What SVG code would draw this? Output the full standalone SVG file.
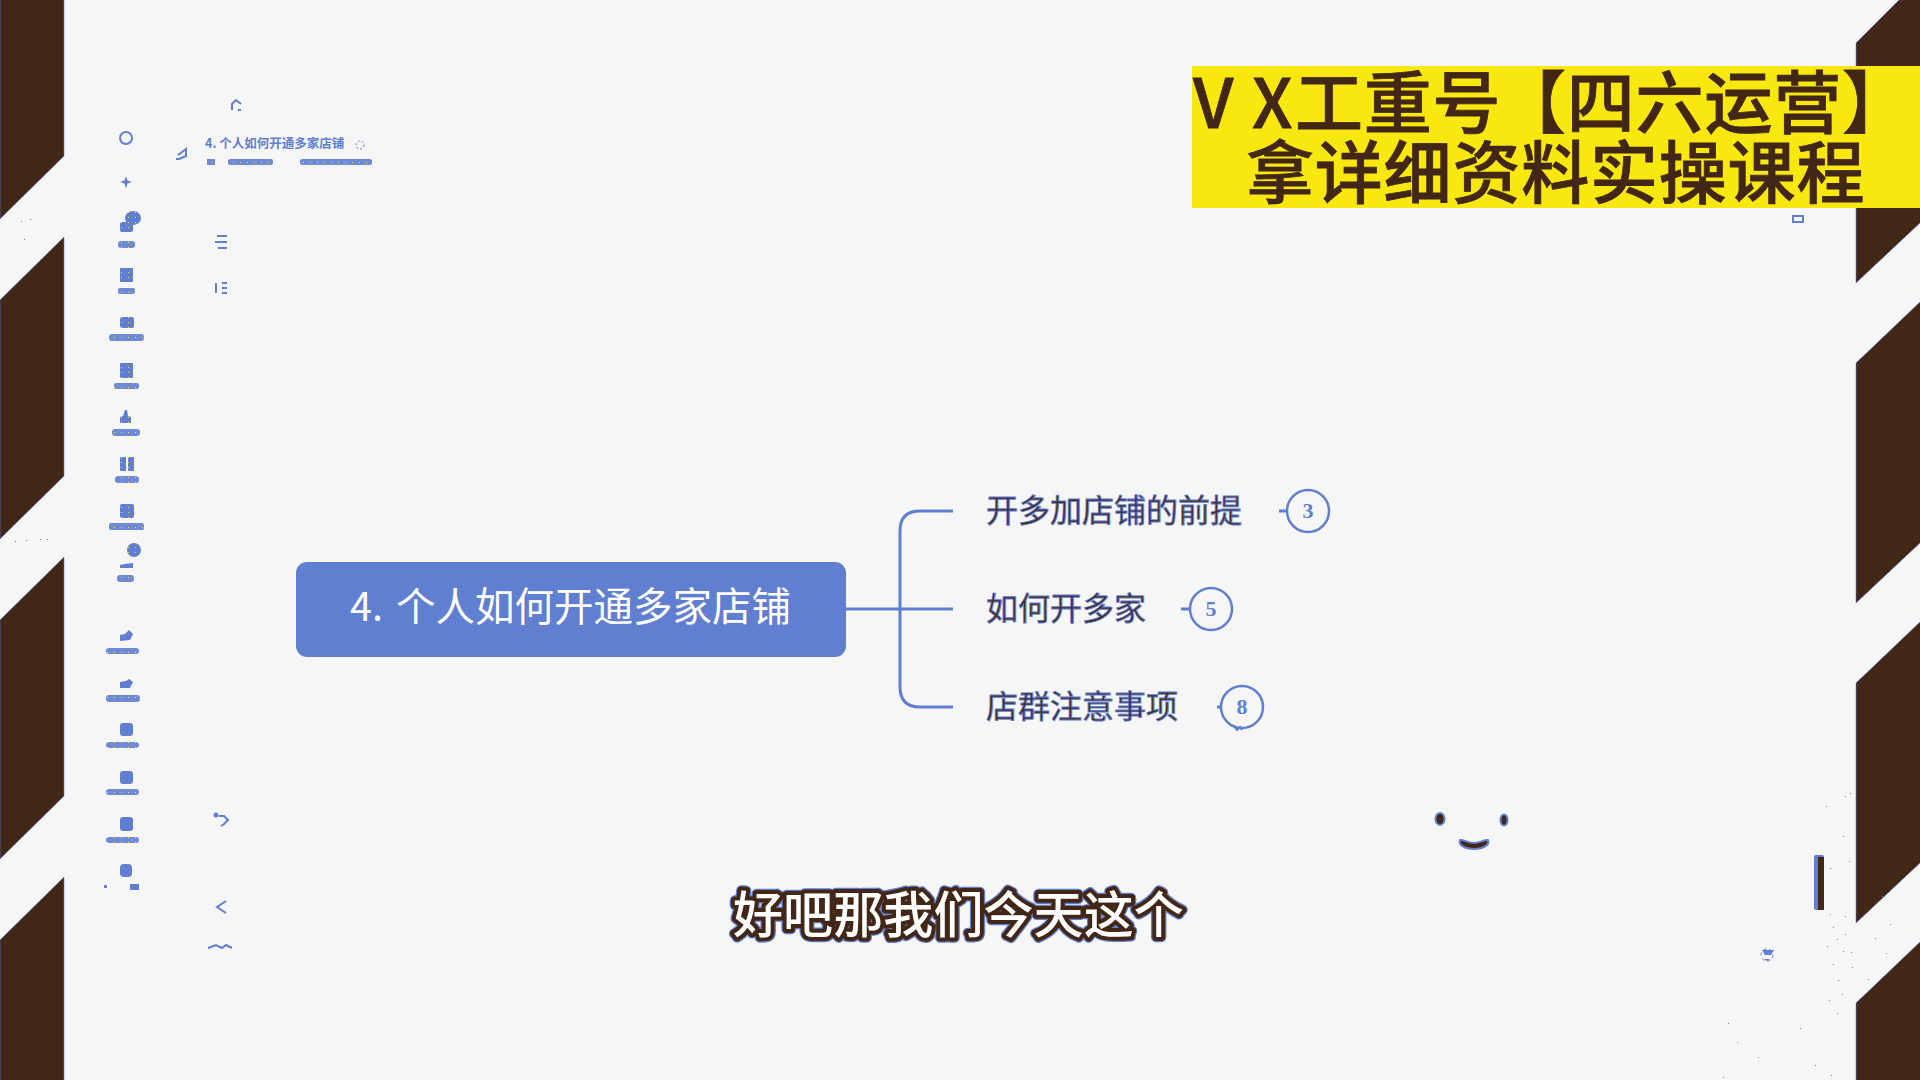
<svg xmlns="http://www.w3.org/2000/svg" width="1920" height="1080" viewBox="0 0 1920 1080">
<style>
text{font-family:"Noto Sans CJK SC","Noto Sans",sans-serif}
.st{fill:#422616;stroke:#617fd1;stroke-width:.6}
.c{fill:none;stroke:#617fd1;stroke-width:3}
.lb{font-size:32px;fill:#422616;stroke:#617fd1;stroke-width:.9}
.bd{fill:none;stroke:#617fd1;stroke-width:2.5}
.n{font-family:"Liberation Serif",serif;font-size:22px;font-weight:700;fill:#617fd1;text-anchor:middle}
.ti{font-size:68px;font-weight:500;fill:#422616;stroke:#422616;stroke-width:.8;letter-spacing:.8px}
.sub{font-size:50px;font-weight:500;fill:#fff;stroke-linejoin:round;letter-spacing:.1px}
.i{fill:url(#sp)}
.l{fill:url(#sp);opacity:.9}
.ln{fill:none;stroke:#617fd1;stroke-width:2}
</style>
<defs>
<pattern id="sp" width="7" height="5" patternUnits="userSpaceOnUse"><rect width="7" height="5" fill="#617fd1"/><rect x="2" y="2" width="1" height="1" fill="#f9e80f"/></pattern>
</defs>
<rect width="1920" height="1080" fill="#f6f6f6"/>
<g id="stripes">
<polygon class="st" points="0,-2 64,-2 64,156 0,219"/>
<polygon class="st" points="0,300 64,237 64,476 0,539"/>
<polygon class="st" points="0,620 64,557 64,796 0,859"/>
<polygon class="st" points="0,940 64,877 64,1082 0,1082"/>
<polygon class="st" points="1856,43 1899,0 1922,-2 1922,221 1856,283"/>
<polygon class="st" points="1856,363 1922,300 1922,541 1856,603"/>
<polygon class="st" points="1856,683 1922,620 1922,861 1856,923"/>
<polygon class="st" points="1856,1003 1922,940 1922,1082 1856,1082"/>
</g>
<g id="banner">
<rect x="1192" y="66" width="728" height="142" fill="#f9e80f"/>
<text class="ti" x="1193" y="128">V<tspan x="1252">X</tspan><tspan x="1295">工重号</tspan><tspan x="1498">【四六运营】</tspan></text>
<text class="ti" x="1246" y="198">拿详细资料实操课程</text>
</g>
<g id="connectors">
<path class="c" d="M846,609H953"/>
<path class="c" d="M953,511H920Q900,511 900,531V687Q900,707 920,707H953"/>
<path class="c" d="M1279,511H1287M1181,609H1190M1217,707H1222"/>
</g>
<g id="root">
<rect x="296" y="562" width="550" height="95" rx="11" fill="#617fd1"/>
<text x="350" y="621" font-size="39.500" fill="#fff">4.<tspan x="396">个人如何开通多家店铺</tspan></text>
</g>
<g id="branch1">
<text class="lb" x="986" y="522">开多加店铺的前提</text>
<circle class="bd" cx="1308" cy="511" r="21"/>
<text class="n" x="1308" y="518">3</text>
</g>
<g id="branch2">
<text class="lb" x="986" y="620">如何开多家</text>
<circle class="bd" cx="1211" cy="609" r="21"/>
<text class="n" x="1211" y="616">5</text>
</g>
<g id="branch3">
<text class="lb" x="986" y="718">店群注意事项</text>
<circle class="bd" cx="1242" cy="707" r="21"/>
<text class="n" x="1242" y="714">8</text>
<path class="ln" stroke-width="1.5" d="M1233,725l4,5 3,-3 2,3"/>
</g>
<g id="sidebar">
<circle class="ln" cx="126" cy="138" r="6"/>
<path d="M126,176l1.500,4.500 4.500,1.500 -4.500,1.500 -1.500,5 -1.500,-5 -4.500,-1.500 4.500,-1.500z" fill="#617fd1"/>
<ellipse class="i" cx="133" cy="218" rx="8" ry="7"/><rect class="i" x="120" y="222" width="13" height="10" rx="2"/><rect class="l" x="118" y="241" width="17" height="7" rx="3"/>
<rect class="i" x="120" y="268" width="13" height="14" rx="1"/><rect class="l" x="118" y="288" width="17" height="6" rx="2"/>
<rect class="i" x="120" y="317" width="14" height="11" rx="2"/><rect class="l" x="109" y="334" width="35" height="7" rx="3"/>
<rect class="i" x="120" y="363" width="13" height="15" rx="1"/><rect class="l" x="114" y="383" width="25" height="6" rx="2"/>
<path class="i" d="M125,410h2l1,6 3,1v6h-11v-6l3,-1z"/><rect class="l" x="112" y="429" width="28" height="7" rx="3"/>
<rect class="i" x="120" y="457" width="6" height="14" rx="1"/><rect class="i" x="128" y="457" width="6" height="14" rx="1"/><rect class="l" x="115" y="476" width="24" height="7" rx="3"/>
<rect class="i" x="120" y="504" width="14" height="14" rx="2"/><rect class="l" x="109" y="523" width="35" height="7" rx="2"/>
<circle class="i" cx="134" cy="550" r="7"/><path d="M120,568v-3l5,-1 8,-1v5z" fill="#617fd1"/><rect class="l" x="117" y="575" width="17" height="7" rx="3"/>
<path d="M120,641v-6l5,-1 4,-4 4,4 -3,6z" fill="#617fd1"/><rect class="l" x="106" y="648" width="33" height="6" rx="3"/>
<path d="M120,688v-6l6,-1 3,-2 4,3 -3,6z" fill="#617fd1"/><rect class="l" x="106" y="695" width="34" height="7" rx="3"/>
<rect x="120" y="723" width="13" height="13" rx="3" fill="#617fd1"/><rect class="l" x="106" y="742" width="33" height="6" rx="3"/>
<rect x="120" y="771" width="13" height="13" rx="3" fill="#617fd1"/><rect class="l" x="106" y="789" width="33" height="6" rx="3"/>
<rect x="120" y="817" width="13" height="14" rx="3" fill="#617fd1"/><rect class="l" x="106" y="837" width="33" height="6" rx="3"/>
<rect x="120" y="864" width="12" height="13" rx="4" fill="#617fd1"/><rect x="104" y="885" width="3" height="3" fill="#617fd1"/><rect x="130" y="884" width="9" height="6" fill="#617fd1"/>
</g>
<g id="toolbar">
<path class="ln" d="M232,110v-6l4,-4 5,4M238,110h3"/>
<path class="ln" d="M178,155l8,-6v7l-7,3h-3"/>
<text x="205" y="148" font-size="12.500" font-weight="700" fill="#617fd1">4. 个人如何开通多家店铺</text>
<rect class="l" x="207" y="159" width="8" height="6"/><rect class="l" x="228" y="159" width="45" height="6" rx="2" opacity=".6"/><rect class="l" x="300" y="159" width="72" height="6" rx="2" opacity=".7"/>
<circle cx="360" cy="145" r="4" fill="none" stroke="#617fd1" stroke-dasharray="2 2"/>
<path class="ln" d="M217,236h10M215,242h12M218,248h9"/>
<path class="ln" d="M216,283v10M222,283h5M222,288h5M222,293h5"/>
<circle cx="216" cy="815" r="2.500" fill="#617fd1"/><path class="ln" stroke-width="1.500" d="M219,816h5l4,4 -4,4 -3,2"/>
<path class="ln" stroke-width="2.500" d="M226,901l-9,6 9,6"/>
<path class="ln" stroke-width="1.500" d="M208,948l8,-3 6,3 4,-3 6,3"/>
</g>
<g id="right-tools">
<path class="ln" d="M1793,216h10v6h-10z"/>
<path d="M1762,950h12l-3,5h-6zM1764,959h6l-3,2z" fill="#617fd1"/><circle cx="1767" cy="955" r="6" fill="none" stroke="#617fd1" stroke-dasharray="3 3"/>
<rect x="1814" y="855" width="10" height="55" rx="2" fill="#617fd1"/><rect x="1818" y="857" width="6" height="53" fill="#422616"/>
</g>
<g id="face" fill="#422616" stroke="#617fd1" stroke-width="2">
<ellipse cx="1440" cy="819" rx="4.500" ry="6"/>
<ellipse cx="1504" cy="820" rx="3.500" ry="5.500"/>
<path d="M1460,840c5,0 8,3 14,3s9,-3 14,-3c2,5 -5,9 -14,9s-16,-4 -14,-9z"/>
</g>
<g id="specks" fill="#617fd1">
<path d="M1826,806h1v1h-1zM1850,793h1v1h-1zM1845,796h1v1h-1zM1843,836h1v1h-1zM1849,861h1v1h-1zM1830,868h1v1h-1zM1830,914h1v1h-1zM1845,916h1v1h-1zM1833,927h1v1h-1zM1845,934h1v1h-1zM1837,939h1v1h-1zM1827,946h1v1h-1zM1843,951h1v1h-1zM1851,952h1v1h-1zM1833,964h1v1h-1zM1852,967h1v1h-1zM1838,980h1v1h-1zM1829,1000h1v1h-1zM1842,994h1v1h-1zM1837,1013h1v1h-1zM1882,896h1v1h-1zM1890,924h1v1h-1zM1875,938h1v1h-1zM1886,953h1v1h-1zM1868,979h1v1h-1zM1728,1023h1v1h-1zM1800,1028h1v1h-1zM1737,1042h1v1h-1zM1758,1057h1v1h-1zM1815,1065h1v1h-1zM1723,1077h1v1h-1zM1831,1075h1v1h-1zM21,221h1v1h-1zM30,219h1v1h-1zM24,239h1v1h-1zM15,541h1v1h-1zM26,540h1v1h-1zM40,539h1v1h-1zM47,539h1v1h-1z"/>
</g>
<g id="subtitle">
<text class="sub" x="733" y="933" stroke="#617fd1" stroke-width="10.500">好吧那我们今天这个</text>
<text class="sub" x="733" y="933" stroke="#422616" stroke-width="8">好吧那我们今天这个</text>
<text class="sub" x="733" y="933">好吧那我们今天这个</text>
</g>
</svg>
